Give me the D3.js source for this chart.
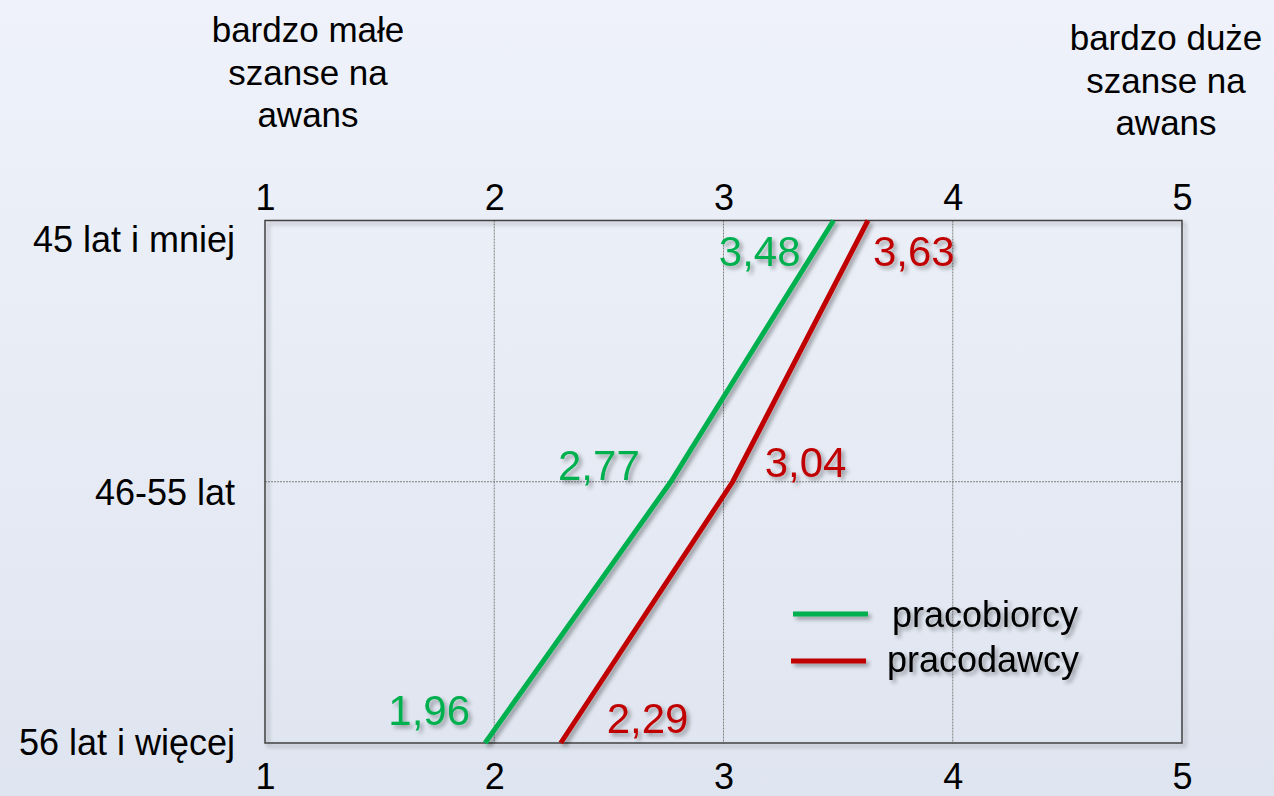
<!DOCTYPE html>
<html>
<head>
<meta charset="utf-8">
<script src="https://cdn.jsdelivr.net/npm/d3@7"></script>
<style>
  body { margin: 0; padding: 0; overflow: hidden; }
  text { font-family: "Liberation Sans", Arial, sans-serif; }
</style>
</head>
<body>
<div id="chart"></div>
<script>
// age groups (rows, top to bottom)
var categories = ["45 lat i mniej", "46-55 lat", "56 lat i więcej"];
var seriesNames = ["pracobiorcy", "pracodawcy"];
var pracobiorcy = [3.48, 2.77, 1.96];
var pracodawcy = [3.63, 3.04, 2.29];
var xTicks = [1, 2, 3, 4, 5];
var leftTitle = ["bardzo małe", "szanse na", "awans"];
var rightTitle = ["bardzo duże", "szanse na", "awans"];

var colors = { pracobiorcy: "#00b050", pracodawcy: "#c00000" };

var W = 1274, H = 796;
var margin = { top: 220.5, right: 92, bottom: 53, left: 265 };
var width = W - margin.left - margin.right;
var height = H - margin.top - margin.bottom;

var svg = d3.select("#chart").append("svg")
    .attr("width", W)
    .attr("height", H);

var defs = svg.append("defs");
var grad = defs.append("linearGradient")
    .attr("id", "bg").attr("x1", 0).attr("y1", 0).attr("x2", 0).attr("y2", 1);
grad.append("stop").attr("offset", "0%").attr("stop-color", "#eff2fa");
grad.append("stop").attr("offset", "100%").attr("stop-color", "#dfe5f0");

// soft shadow used by lines, labels and frame (user space so flat shapes work too)
var f = defs.append("filter").attr("id", "shadow")
    .attr("filterUnits", "userSpaceOnUse")
    .attr("x", -300).attr("y", -300).attr("width", W + 600).attr("height", H + 600);
f.append("feGaussianBlur").attr("in", "SourceAlpha").attr("stdDeviation", 2).attr("result", "b");
f.append("feOffset").attr("in", "b").attr("dx", 3).attr("dy", 3).attr("result", "o");
f.append("feComponentTransfer").attr("in", "o").attr("result", "s")
    .append("feFuncA").attr("type", "linear").attr("slope", 0.35);
var fm = f.append("feMerge");
fm.append("feMergeNode").attr("in", "s");
fm.append("feMergeNode").attr("in", "SourceGraphic");

svg.append("rect").attr("width", W).attr("height", H).attr("fill", "url(#bg)");

var g = svg.append("g")
    .attr("transform", "translate(" + margin.left + "," + margin.top + ")");

var x = d3.scaleLinear().domain([1, 5]).range([0, width]);
var y = d3.scalePoint().domain(categories).range([0, height]);

// grid lines (dotted)
g.append("g").selectAll("line")
    .data(xTicks.slice(1, -1))
    .enter().append("line")
    .attr("x1", d => x(d)).attr("x2", d => x(d))
    .attr("y1", 0).attr("y2", height)
    .attr("stroke", "#7f7f7f").attr("stroke-width", 1)
    .attr("stroke-dasharray", "2,1");
g.append("g").selectAll("line")
    .data(categories.slice(1, -1))
    .enter().append("line")
    .attr("x1", 0).attr("x2", width)
    .attr("y1", d => y(d)).attr("y2", d => y(d))
    .attr("stroke", "#7f7f7f").attr("stroke-width", 1)
    .attr("stroke-dasharray", "2,1");

// frame
g.append("rect")
    .attr("width", width).attr("height", height)
    .attr("fill", "none")
    .attr("stroke", "#404040").attr("stroke-width", 1.5)
    .attr("filter", "url(#shadow)");

// top and bottom axis
var topAxis = g.append("g").call(d3.axisTop(x).tickValues(xTicks).tickSize(0).tickFormat(d3.format("d")));
var bottomAxis = g.append("g").attr("transform", "translate(0," + height + ")")
    .call(d3.axisBottom(x).tickValues(xTicks).tickSize(0).tickFormat(d3.format("d")));
[topAxis, bottomAxis].forEach(function (a) {
    a.select(".domain").remove();
    a.selectAll("text")
        .style("font-family", "'Liberation Sans', Arial, sans-serif")
        .style("font-size", "36px")
        .attr("fill", "#000");
});
topAxis.selectAll("text").attr("dy", "0").attr("y", -11);
bottomAxis.selectAll("text").attr("dy", "0").attr("y", 46);

// category labels on the left
g.append("g").selectAll("text")
    .data(categories)
    .enter().append("text")
    .attr("x", -30)
    .attr("y", (d, i) => y(d) + [31, 23, 12][i])
    .attr("text-anchor", "end")
    .style("font-size", "36px")
    .attr("fill", "#000")
    .text(d => d);

// side titles
function title(lines, cx, top) {
    svg.append("text")
        .attr("text-anchor", "middle")
        .style("font-size", "35px")
        .attr("fill", "#000")
        .selectAll("tspan")
        .data(lines)
        .enter().append("tspan")
        .attr("x", cx)
        .attr("y", (d, i) => top + i * 42.5)
        .text(d => d);
}
title(leftTitle, 308, 42);
title(rightTitle, 1166, 50);

// series lines
var series = [
    { name: seriesNames[0], values: pracobiorcy },
    { name: seriesNames[1], values: pracodawcy }
];

var line = d3.line()
    .x(d => x(d.v))
    .y(d => y(d.c));

g.append("g").selectAll("path")
    .data(series)
    .enter().append("path")
    .attr("d", s => line(s.values.map((v, i) => ({ v: v, c: categories[i] }))))
    .attr("fill", "none")
    .attr("stroke", s => colors[s.name])
    .attr("stroke-width", 5)
    .attr("filter", "url(#shadow)");

// value labels: green on the left of its line, red on the right
var labelPlace = {
    pracobiorcy: { anchor: "end", dx: [-33, -31, -15], dy: [45, -2, -18] },
    pracodawcy: { anchor: "start", dx: [5, 32, 46], dy: [45, -5, -10] }
};
var fmt = d3.format(".2f");
series.forEach(function (s) {
    var p = labelPlace[s.name];
    g.append("g").selectAll("text")
        .data(s.values)
        .enter().append("text")
        .attr("x", (d, i) => x(d) + p.dx[i])
        .attr("y", (d, i) => y(categories[i]) + p.dy[i])
        .attr("text-anchor", p.anchor)
        .style("font-size", "42px")
        .attr("fill", colors[s.name])
        .attr("filter", "url(#shadow)")
        .text(d => fmt(d).replace(".", ","));
});

// legend
var legend = svg.append("g").attr("transform", "translate(793,614)");
var li = legend.selectAll("g")
    .data(series)
    .enter().append("g")
    .attr("transform", (d, i) => "translate(" + (-i * 2) + "," + (i * 47) + ")");
li.append("rect")
    .attr("x", 0).attr("y", -2.5)
    .attr("width", 75).attr("height", 5)
    .attr("fill", d => colors[d.name])
    .attr("filter", "url(#shadow)");
li.append("text")
    .attr("x", (d, i) => 99 - i * 3)
    .attr("y", (d, i) => 13 + i * -2)
    .style("font-size", "36px")
    .attr("fill", "#000")
    .attr("filter", "url(#shadow)")
    .text(d => d.name);
</script>
</body>
</html>
